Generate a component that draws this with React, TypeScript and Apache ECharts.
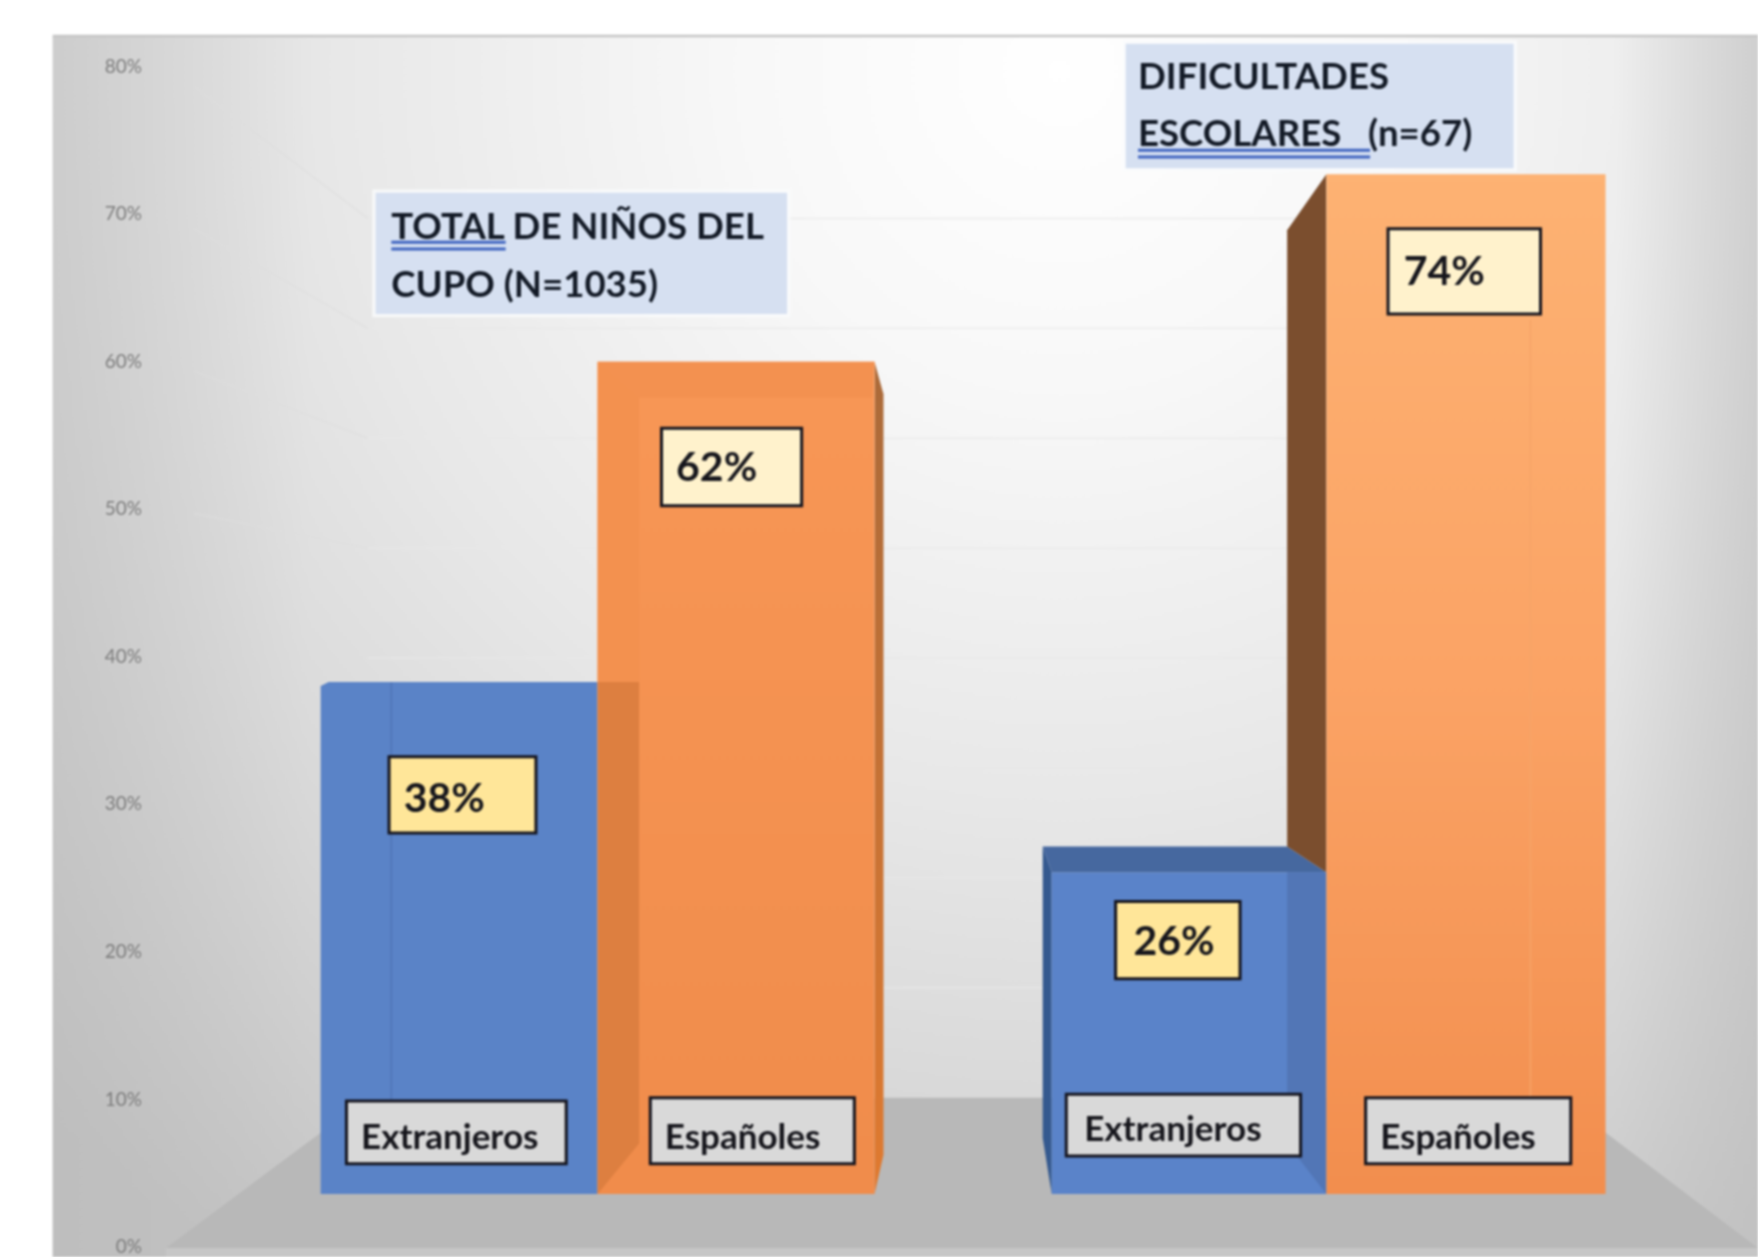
import React, { useEffect, useRef } from "react";
import * as echarts from "echarts";

const groups = ["TOTAL DE NIÑOS DEL CUPO (N=1035)", "DIFICULTADES ESCOLARES (n=67)"];
const seriesNames = ["Extranjeros", "Españoles"];
// printed percentages
const extranjerosPct = [38, 26];
const espanolesPct = [62, 74];
// where the 3D bars reach when read against the printed y axis
const extranjerosBack = [38.2, 27.05];
const extranjerosFront = [38.2, 25.3];
const espanolesBack = [59.9, 72.6];
const espanolesFront = [57.45, 72.6];
const barFoot = 3.5;
const axisTicks = [0, 10, 20, 30, 40, 50, 60, 70, 80];

const W = 1758;
const H = 1257;
const s = 1.1212;
const px = (v: number) => v * s;
const FONT = "Lato, 'Noto Sans', sans-serif";

function boxedText(x0: number, y0: number, x1: number, y1: number, fill: string, text: string, tx: number, ty: number, size: number) {
  return [
    { type: "rect", z: 20, shape: { x: px(x0), y: px(y0), width: px(x1 - x0), height: px(y1 - y0) }, style: { fill, stroke: "#14141e", lineWidth: 3 } },
    { type: "text", z: 21, style: { x: px(tx), y: px(ty), text, fill: "#16161c", font: `700 ${size}px ${FONT}`, verticalAlign: "middle", align: "left" } },
  ];
}

function titleBox(x0: number, y0: number, x1: number, y1: number, lines: string[], tx: number, tys: number[], ul: number[]) {
  return [
    { type: "rect", z: 18, shape: { x: px(x0 - 3), y: px(y0 - 3), width: px(x1 - x0 + 6), height: px(y1 - y0 + 6) }, style: { fill: "rgba(250,251,253,0.8)" } },
    { type: "rect", z: 19, shape: { x: px(x0), y: px(y0), width: px(x1 - x0), height: px(y1 - y0) }, style: { fill: "#d6e0f1" } },
    ...lines.map((t, i) => ({ type: "text", z: 21, style: { x: px(tx), y: px(tys[i]), text: t, fill: "#131a26", font: `700 36.6px ${FONT}`, verticalAlign: "middle", align: "left" } })),
    { type: "line", z: 21, shape: { x1: px(ul[0]), y1: px(ul[2]), x2: px(ul[1]), y2: px(ul[2]) }, style: { stroke: "#3f64c0", lineWidth: 3 } },
    { type: "line", z: 21, shape: { x1: px(ul[0]), y1: px(ul[2] + 6), x2: px(ul[1]), y2: px(ul[2] + 6) }, style: { stroke: "#3f64c0", lineWidth: 3 } },
  ];
}

function poly(points: number[][], fill: any) {
  return { type: "polygon", shape: { points }, style: { fill } };
}

function renderBar(seriesIdx: number) {
  return (params: any, api: any) => {
    const cat = params.dataIndex;
    const center = api.coord([api.value(0), 0])[0];
    const w = api.size([1, 0])[0] * 0.38;
    const yBack = api.coord([cat, api.value(1)])[1];
    const yFront = api.coord([cat, api.value(2)])[1];
    const yFoot = api.coord([cat, barFoot])[1];
    const x0 = seriesIdx === 0 ? center - w : center;
    const x1 = seriesIdx === 0 ? center : center + w;
    const children: any[] = [];
    if (seriesIdx === 0 && cat === 0) {
      children.push(poly([[x0, yBack + 4], [x0 + 8, yBack], [x1, yBack], [x1, yFoot], [x0, yFoot]], "#5a83c7"));
      children.push({ type: "line", shape: { x1: x0 + px(63), y1: yBack, x2: x0 + px(63), y2: yFoot - px(80) }, style: { stroke: "#4f76b6", lineWidth: 1.5 } });
    }
    if (seriesIdx === 0 && cat === 1) {
      const xl = x0 - px(6);
      children.push(poly([[xl, yBack], [x0 + px(2), yFront], [x0 + px(2), yFoot], [xl, yFoot - px(50)]], "#34598f"));
      children.push(poly([[x0 + px(2), yFront], [x1, yFront], [x1, yFoot], [x0 + px(2), yFoot]], "#5a83c9"));
      children.push(poly([[xl, yBack], [x1 - px(35), yBack], [x1, yFront], [x0 + px(2), yFront]], "#46689f"));
      children.push(poly([[x1 - px(35), yFront], [x1, yFront], [x1, yFoot], [x1 - px(35), yFoot - px(45)]], "#5276b6"));
    }
    if (seriesIdx === 1 && cat === 0) {
      const blueTop = api.coord([cat, extranjerosBack[0]])[1];
      children.push(poly([[x1, yBack], [x1 + px(8), yBack + px(29)], [x1 + px(8), yFoot - px(35)], [x1, yFoot]], new echarts.graphic.LinearGradient(0, 0, 0, 1, [{ offset: 0, color: "#aa6a3a" }, { offset: 1, color: "#e07a30" }])));
      children.push(poly([[x0, yBack], [x1, yBack], [x1, yFoot], [x0, yFoot]], new echarts.graphic.LinearGradient(0, 0, 0, 1, [{ offset: 0, color: "#f89756" }, { offset: 1, color: "#f08c4b" }])));
      children.push(poly([[x0, yBack], [x1, yBack], [x1 - px(2), yFront], [x0 + px(37), yFront]], "#f39150"));
      children.push(poly([[x0, yBack], [x0 + px(37), yFront], [x0 + px(37), blueTop], [x0, blueTop]], "#f3914f"));
      children.push(poly([[x0, blueTop], [x0 + px(37), blueTop], [x0 + px(37), yFoot - px(45)], [x0, yFoot]], "#dd7f40"));
    }
    if (seriesIdx === 1 && cat === 1) {
      const blueBack = api.coord([cat, extranjerosBack[1]])[1];
      const blueFront = api.coord([cat, extranjerosFront[1]])[1];
      children.push(poly([[x0 - px(35), yBack + px(50)], [x0, yBack], [x0, blueFront], [x0 - px(35), blueBack]], "#7b4e2e"));
      children.push(poly([[x0, yBack], [x1 + px(2), yBack], [x1 + px(2), yFoot], [x0, yFoot]], new echarts.graphic.LinearGradient(0, 0, 0, 1, [{ offset: 0, color: "#fdb273" }, { offset: 0.5, color: "#fba365" }, { offset: 1, color: "#f28e4e" }])));
      children.push({ type: "line", shape: { x1: x1 - px(65), y1: yBack + px(130), x2: x1 - px(65), y2: yFoot - px(60) }, style: { stroke: "#f6a468", lineWidth: 1.5 } });
    }
    return { type: "group", children };
  };
}

function renderWalls(params: any, api: any) {
  const k = 9.8 / 13.16;
  const y0 = api.coord([0, 0])[1];
  const value = api.value(1);
  const yFront = api.coord([0, value])[1];
  const yBack = px(979) - (y0 - yFront) * k;
  if (value === 0) return { type: "group", children: [] };
  const mk = (x1: number, y1: number, x2: number, y2: number, stroke: string) => ({ type: "line", shape: { x1, y1, x2, y2 }, style: { stroke, lineWidth: 2 } });
  const children = [mk(px(328), yBack, px(1391), yBack, "rgba(232,232,232,0.6)")];
  if (value >= 50) {
    const t = 0.14;
    const fx = px(148);
    children.push(mk(fx + (px(328) - fx) * t, yFront + (yBack - yFront) * t, px(328), yBack, "rgba(222,222,222,0.55)"));
  }
  return { type: "group", children };
}

function renderFloor(params: any, api: any) {
  const y0 = api.coord([0, 0])[1] + px(2);
  return {
    type: "group",
    children: [
      poly([[px(148), y0], [px(328), px(979)], [px(1391), px(979)], [px(1568), y0]], "#b8b8b8"),
      poly([[px(148), y0], [px(1568), y0], [px(1568), H], [px(148), H]], "#c6c6c6"),
    ],
  };
}

export default function App() {
  const ref = useRef<HTMLDivElement>(null);
  useEffect(() => {
    document.body.style.margin = "0";
    const chart = echarts.init(ref.current!, undefined, { renderer: "svg" });
    chart.setOption({
      animation: false,
      backgroundColor: "#ffffff",
      grid: { left: px(208), right: W - px(1508), top: 65, bottom: 11.3 },
      xAxis: { type: "category", data: groups, show: false },
      yAxis: {
        type: "value",
        min: 0,
        max: 80,
        interval: 10,
        axisLine: { show: false },
        axisTick: { show: false },
        splitLine: { show: false },
        axisLabel: { margin: px(208) - 142, color: "#7c7c7c", fontSize: 19, fontFamily: FONT, formatter: (v: number) => `${v}%` },
      },
      graphic: [
        { type: "rect", z: -10, shape: { x: px(47), y: px(32), width: W - px(47), height: H - px(32) }, style: { fill: new echarts.graphic.RadialGradient(1060, 70, 1450, [{ offset: 0, color: "#ffffff" }, { offset: 0.22, color: "#f8f8f8" }, { offset: 0.5, color: "#e8e8e8" }, { offset: 0.75, color: "#d6d6d6" }, { offset: 1, color: "#c2c2c2" }], true) } },
        { type: "rect", z: -9, shape: { x: px(1440), y: px(32), width: W - px(1440), height: H - px(32) }, style: { fill: new echarts.graphic.LinearGradient(0, 0, 1, 0, [{ offset: 0, color: "rgba(190,190,190,0)" }, { offset: 1, color: "rgba(190,190,190,0.6)" }]) } },
        { type: "rect", z: -9, shape: { x: px(47), y: px(32), width: px(230), height: H - px(32) }, style: { fill: new echarts.graphic.LinearGradient(0, 0, 1, 0, [{ offset: 0, color: "rgba(185,185,185,0.4)" }, { offset: 1, color: "rgba(185,185,185,0)" }]) } },
        { type: "line", z: -8, shape: { x1: px(47), y1: px(32), x2: W, y2: px(32) }, style: { stroke: "#c6c6c6", lineWidth: 2.5 } },
        ...titleBox(335, 172, 702, 280, ["TOTAL DE NIÑOS DEL", "CUPO (N=1035)"], 349, [201, 252], [349, 451, 216]),
        ...titleBox(1004, 39, 1350, 150, ["DIFICULTADES", "ESCOLARES   (n=67)"], 1015, [67, 118], [1015, 1222, 134]),
        ...boxedText(347, 675, 478, 743, "#ffe699", `${extranjerosPct[0]}%`, 360, 710, 41),
        ...boxedText(590, 382, 715, 451, "#fff2cc", `${espanolesPct[0]}%`, 603, 415, 41),
        ...boxedText(995, 804, 1106, 873, "#ffe699", `${extranjerosPct[1]}%`, 1011, 838, 41),
        ...boxedText(1238, 204, 1374, 280, "#fff2cc", `${espanolesPct[1]}%`, 1252, 240, 41),
        ...boxedText(309, 982, 505, 1038, "#d9d9d9", seriesNames[0], 322, 1012, 35),
        ...boxedText(580, 979, 762, 1038, "#d9d9d9", seriesNames[1], 593, 1012, 35),
        ...boxedText(951, 976, 1160, 1031, "#d9d9d9", seriesNames[0], 967, 1005, 35),
        ...boxedText(1218, 979, 1401, 1038, "#d9d9d9", seriesNames[1], 1231, 1012, 35),
      ],
      series: [
        { type: "custom", name: "Suelo", z: 1, silent: true, clip: false, data: [[0, 0]], encode: { x: 0, y: 1 }, renderItem: renderFloor },
        { type: "custom", name: "Rejilla", z: 1, silent: true, clip: false, data: axisTicks.map((t) => [0, t]), encode: { x: 0, y: 1 }, renderItem: renderWalls },
        {
          type: "custom",
          name: seriesNames[0],
          z: 3,
          clip: false,
          encode: { x: 0, y: 1 },
          data: groups.map((_, i) => [i, extranjerosBack[i], extranjerosFront[i]]),
          renderItem: renderBar(0),
        },
        {
          type: "custom",
          name: seriesNames[1],
          z: 4,
          clip: false,
          encode: { x: 0, y: 1 },
          data: groups.map((_, i) => [i, espanolesBack[i], espanolesFront[i]]),
          renderItem: renderBar(1),
        },
      ],
    });
    return () => chart.dispose();
  }, []);
  return <div ref={ref} style={{ position: "fixed", left: 0, top: 0, width: W, height: H, filter: "blur(1px)" }} />;
}
